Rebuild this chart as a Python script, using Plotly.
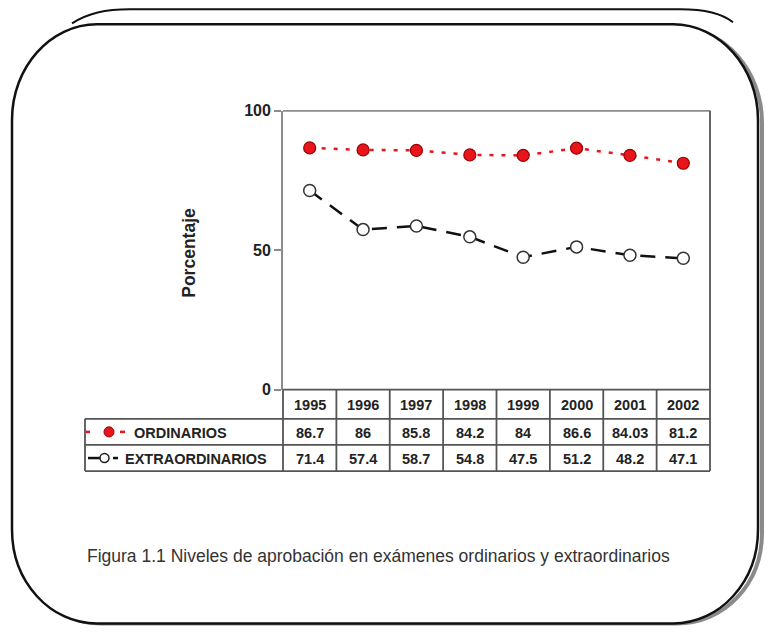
import plotly.graph_objects as go

W, H = 771, 633

years = ["1995", "1996", "1997", "1998", "1999", "2000", "2001", "2002"]
ordinarios = [86.7, 86, 85.8, 84.2, 84, 86.6, 84.03, 81.2]
extraordinarios = [71.4, 57.4, 58.7, 54.8, 47.5, 51.2, 48.2, 47.1]
ord_labels = ["86.7", "86", "85.8", "84.2", "84", "86.6", "84.03", "81.2"]
ext_labels = ["71.4", "57.4", "58.7", "54.8", "47.5", "51.2", "48.2", "47.1"]
series_names = ["ORDINARIOS", "EXTRAORDINARIOS"]
y_ticks = [0, 50, 100]
caption = "Figura 1.1 Niveles de aprobación en exámenes ordinarios y extraordinarios"

# vertical calibration of the photographed page (observed offset / scale)
Y_OFF, Y_SCALE = 8.8, 0.967


def px(x):
    return x / W


def py(y):
    page_y = (y - Y_OFF) / Y_SCALE
    page_y = min(max(page_y, 0.5), H - 0.5)
    return 1 - page_y / H


# layout geometry (pixels in the photo)
PL, PR, PT, PB = 283, 710, 111, 388
ROW1, ROW2, ROW3 = 417, 443, 469
LAB_L = 85

RED = "#e8161c"
fig = go.Figure()
fig.add_trace(go.Scatter(
    x=years, y=ordinarios, mode="lines+markers", name=series_names[0],
    line=dict(color=RED, width=2.5, dash="4px,8px"),
    marker=dict(size=12, color=RED, line=dict(color="#9c0000", width=1.2)),
))
fig.add_trace(go.Scatter(
    x=years, y=extraordinarios, mode="lines+markers", name=series_names[1],
    line=dict(color="#111111", width=2.5, dash="15px,10px"),
    marker=dict(size=12, color="white", line=dict(color="#333333", width=1.5)),
))

shapes = []


def rr_path(x0, y0, x1, y1, rx, ry, dx=0, dy=0):
    x0 += dx; x1 += dx; y0 += dy; y1 += dy
    c = 0.45
    p = []
    p.append(f"M {px(x0 + rx)},{py(y0)}")
    p.append(f"L {px(x1 - rx)},{py(y0)}")
    p.append(f"C {px(x1 - rx * c)},{py(y0)} {px(x1)},{py(y0 + ry * c)} {px(x1)},{py(y0 + ry)}")
    p.append(f"L {px(x1)},{py(y1 - ry)}")
    p.append(f"C {px(x1)},{py(y1 - ry * c)} {px(x1 - rx * c)},{py(y1)} {px(x1 - rx)},{py(y1)}")
    p.append(f"L {px(x0 + rx)},{py(y1)}")
    p.append(f"C {px(x0 + rx * c)},{py(y1)} {px(x0)},{py(y1 - ry * c)} {px(x0)},{py(y1 - ry)}")
    p.append(f"L {px(x0)},{py(y0 + ry)}")
    p.append(f"C {px(x0)},{py(y0 + ry * c)} {px(x0 + rx * c)},{py(y0)} {px(x0 + rx)},{py(y0)} Z")
    return " ".join(p)


# frame shadow and frame
shapes.append(dict(type="path", xref="paper", yref="paper", layer="below",
                   path=rr_path(12, 25, 758, 622, 85, 95, dx=4, dy=3),
                   line=dict(color="#8a8a8a", width=4)))
shapes.append(dict(type="path", xref="paper", yref="paper", layer="below",
                   path=rr_path(12, 25, 758, 622, 85, 95),
                   fillcolor="white", line=dict(color="#111111", width=2.5)))
# upper back arc
shapes.append(dict(type="path", xref="paper", yref="paper", layer="below",
                   path=(f"M {px(72)},{py(24)} C {px(88)},{py(14)} {px(105)},{py(10)} {px(130)},{py(10)} "
                         f"L {px(680)},{py(10)} C {px(705)},{py(10)} {px(722)},{py(14)} {px(733)},{py(23)}"),
                   line=dict(color="#111111", width=2)))

TC = "#555555"
FC = "#8c8c8c"


def hline(x0, x1, y, color=TC, w=1.8):
    shapes.append(dict(type="line", xref="paper", yref="paper", x0=px(x0), x1=px(x1), y0=py(y), y1=py(y),
                       line=dict(color=color, width=w)))


def vline(x, y0, y1, color=TC, w=1.8):
    shapes.append(dict(type="line", xref="paper", yref="paper", x0=px(x), x1=px(x), y0=py(y0), y1=py(y1),
                       line=dict(color=color, width=w)))


# plot frame (top, right) and table borders
hline(PL, PR, PT, FC)
vline(PR, PT, ROW3)
vline(PL, PB, ROW3)
hline(PL, PR, PB)
for yy in (ROW1, ROW2, ROW3):
    hline(LAB_L, PR, yy)
vline(LAB_L, ROW1, ROW3)
# column dividers, placed through the x scale
for i in range(len(years) - 1):
    shapes.append(dict(type="line", xref="x", yref="paper", x0=i + 0.5, x1=i + 0.5, y0=py(PB), y1=py(ROW3),
                       line=dict(color=TC, width=1.8)))

# legend keys in the label column
yo = (ROW1 + ROW2) / 2
ye = (ROW2 + ROW3) / 2
hline(86, 90, yo, RED, 2.5)
hline(120, 125, yo, RED, 2.5)
shapes.append(dict(type="circle", xref="paper", yref="paper", x0=px(104), x1=px(114), y0=py(yo - 5), y1=py(yo + 5),
                   fillcolor=RED, line=dict(color="#9c0000", width=1)))
hline(88, 100, ye, "#111111", 2.5)
hline(113, 118, ye, "#111111", 2.5)
shapes.append(dict(type="circle", xref="paper", yref="paper", x0=px(100), x1=px(109), y0=py(ye - 4.5), y1=py(ye + 4.5),
                   fillcolor="white", line=dict(color="#222222", width=1.5)))

ann = []
BF = "Liberation Sans, Arial, sans-serif"


def txt(x, y, text, size, xref="paper", xanchor="center", angle=0, color="#222", family=BF):
    ann.append(dict(x=x, xref=xref, y=py(y), yref="paper", text=text, textangle=angle,
                    xanchor=xanchor, yanchor="middle", showarrow=False,
                    font=dict(family=family, size=size, color=color)))


for i, (yr, o, e) in enumerate(zip(years, ord_labels, ext_labels)):
    txt(i, (PB + ROW1) / 2 + 1, f"<b>{yr}</b>", 14.5, xref="x")
    txt(i, yo + 1, f"<b>{o}</b>", 14.5, xref="x")
    txt(i, ye + 1, f"<b>{e}</b>", 14.5, xref="x")

txt(px(132), yo + 1, f"<b>{series_names[0]}</b>", 14.5, xanchor="left")
txt(px(123), ye + 1, f"<b>{series_names[1]}</b>", 14.5, xanchor="left")
txt(px(189), 252, "<b>Porcentaje</b>", 17.5, angle=-90)
txt(px(378), 553, caption, 17.5, color="#333")

fig.update_layout(
    width=W, height=H, autosize=False,
    margin=dict(l=0, r=0, t=0, b=0),
    paper_bgcolor="white", plot_bgcolor="rgba(0,0,0,0)",
    showlegend=False,
    shapes=shapes, annotations=ann,
    xaxis=dict(domain=[px(PL), px(PR)], type="category", range=[-0.5, 7.5],
               showticklabels=False, showgrid=False, zeroline=False, showline=False, ticks=""),
    yaxis=dict(domain=[py(PB), py(PT)], range=[0, 100], tickvals=y_ticks,
               ticktext=[f"<b>{v}</b>" for v in y_ticks],
               showgrid=False, zeroline=False, showline=True, linecolor=FC, linewidth=1.8,
               ticks="outside", ticklen=7, tickcolor=FC, tickwidth=1.5,
               tickfont=dict(family=BF, size=16, color="#222")),
)

post = ("document.documentElement.style.margin='0';document.body.style.margin='0';"
        "document.body.style.overflow='hidden';"
        "var d=document.getElementById('{plot_id}');d.style.position='fixed';d.style.top='0px';d.style.left='0px';")
fig.write_html("out.html", post_script=post, config={"displayModeBar": False})
